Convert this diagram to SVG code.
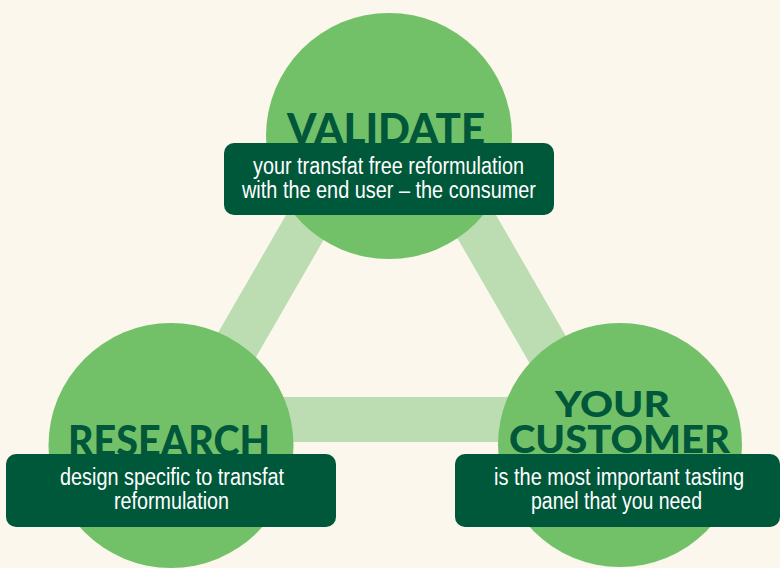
<svg xmlns="http://www.w3.org/2000/svg" width="780" height="568" viewBox="0 0 780 568">
  <style>
    .bg { fill: #fbf7ec; }
    .bar { fill: none; stroke: #bcdcb1; stroke-width: 45; stroke-linejoin: round; }
    .circle { fill: #72c168; }
    .title { font-family: Lato, "Open Sans", "Liberation Sans", sans-serif; font-weight: 900; fill: #00573a; text-anchor: middle; }
    .box { fill: #00583b; }
    .label { font-family: "Liberation Sans Narrow", "Liberation Sans", Arial, sans-serif; font-size: 23px; fill: #ffffff; text-anchor: middle; }
  </style>
  <rect class="bg" x="0" y="0" width="780" height="568"/>
  <g id="connectors">
    <polygon class="bar" points="391,78 194,419.5 588,419.5"/>
  </g>
  <g id="node-validate">
    <circle class="circle" cx="389" cy="136" r="123"/>
    <text class="title" x="386" y="144" font-size="42" textLength="198" lengthAdjust="spacingAndGlyphs">VALIDATE</text>
    <rect class="box" x="224" y="143" width="330" height="72" rx="10"/>
    <text class="label" x="388.5" y="174" textLength="271" lengthAdjust="spacingAndGlyphs">your transfat free reformulation</text>
    <text class="label" x="389" y="197.5" textLength="294" lengthAdjust="spacingAndGlyphs">with the end user – the consumer</text>
  </g>
  <g id="node-research">
    <circle class="circle" cx="171" cy="445.5" r="122.5"/>
    <text class="title" x="169" y="456" font-size="42" textLength="202" lengthAdjust="spacingAndGlyphs">RESEARCH</text>
    <rect class="box" x="6" y="454" width="330" height="73" rx="10"/>
    <text class="label" x="172" y="485" textLength="224" lengthAdjust="spacingAndGlyphs">design specific to transfat</text>
    <text class="label" x="171.5" y="509" textLength="115" lengthAdjust="spacingAndGlyphs">reformulation</text>
  </g>
  <g id="node-customer">
    <circle class="circle" cx="620" cy="445" r="122"/>
    <text class="title" x="612.5" y="417" font-size="36" textLength="115" lengthAdjust="spacingAndGlyphs">YOUR</text>
    <text class="title" x="619.5" y="453" font-size="37" textLength="221" lengthAdjust="spacingAndGlyphs">CUSTOMER</text>
    <rect class="box" x="455" y="454" width="325" height="73" rx="10"/>
    <text class="label" x="619" y="485" textLength="250" lengthAdjust="spacingAndGlyphs">is the most important tasting</text>
    <text class="label" x="616.5" y="509" textLength="171" lengthAdjust="spacingAndGlyphs">panel that you need</text>
  </g>
</svg>
